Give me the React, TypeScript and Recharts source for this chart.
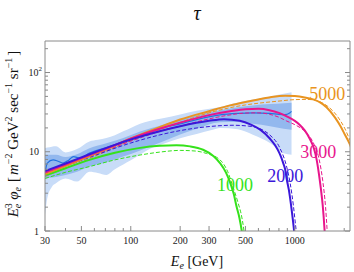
import { ComposedChart, Line, Area, XAxis, YAxis, ReferenceDot } from 'recharts'

const SERIF = '"Liberation Serif", "DejaVu Serif", serif'
const FRAME = '#8a8a8a'
const GREEN = '#35e21b'
const BLUE = '#3a17d9'
const MAGENTA = '#e8158c'
const ORANGE = '#e99420'

type Pt = [number, number]
type BandPt = [number, number, number]

// axis ticks
const xTicks = [30, 40, 50, 60, 70, 80, 90, 100, 200, 300, 400, 500, 600, 700, 800, 900, 1000, 2000]
const xTickLabels = [30, 50, 100, 200, 300, 500, 1000]
const yTicks = [1, 2, 3, 4, 5, 6, 7, 8, 9, 10, 20, 30, 40, 50, 60, 70, 80, 90, 100, 200]
const yTickLabels = [1, 10, 100]

// measured flux bands [E, low, high] and central data line
const outerBand: BandPt[] = [
    [30, 1.6, 11.1], [31, 2.6, 11.3], [33, 3.6, 11.6], [35, 4.0, 11.7], [40, 4.6, 9.8], [47, 4.2, 10.8],
    [56, 5.6, 13.5], [63, 5.4, 14.2], [71, 5.1, 14.9], [80, 6.0, 16.2], [90, 6.9, 18.1], [100, 7.8, 20],
    [114, 9.2, 22.5], [130, 10.8, 24.5], [157, 12.5, 26.5], [200, 14.8, 29.5], [252, 16.8, 33],
    [316, 19, 35.5], [350, 20, 36.8], [450, 19.2, 42], [555, 16.4, 45.7], [706, 12.9, 50],
    [855, 9.6, 54], [955, 9.2, 56.5],
]
const innerBand: BandPt[] = [
    [30, 4.6, 9.2], [35, 4.8, 9.2], [40, 5.1, 8.6], [47, 5.6, 9.3], [56, 6.5, 11.1], [71, 7.4, 12.8],
    [90, 8.7, 14.9], [114, 10.4, 18], [157, 13.5, 22], [200, 16.5, 25.5], [252, 19.5, 29],
    [350, 23.5, 33.4], [450, 23.8, 36.5], [555, 22.5, 38.5], [706, 21, 40], [855, 19.5, 41],
    [955, 19, 41.5],
]
const dataLine: Pt[] = [
    [30, 5.4], [31, 7.2], [33.6, 7.9], [36, 7.6], [38.6, 7.2], [42, 7.9], [44.7, 8.7], [49, 8.3],
    [56, 9.6], [71, 11.3], [90, 13.4], [114, 16], [157, 20], [200, 22.5], [252, 25.5], [350, 29.2],
    [450, 30.5], [555, 31], [706, 30.5], [800, 29.6], [870, 29.4], [930, 30.8], [955, 32.3],
]

// model spectra, solid and dashed, per DM mass
const solid1000: Pt[] = [
    [30, 5.0], [40, 6.2], [56, 7.9], [80, 9.7], [114, 11.2], [150, 11.9], [190, 12.1], [230, 11.7],
    [276, 10.6], [320, 8.8], [350, 7.2], [380, 5.5], [403, 4.1], [425, 2.9], [441, 2.05], [460, 1.45],
    [475, 1.0], [482, 0.8],
]
const dashed1000: Pt[] = [
    [30, 4.6], [40, 5.5], [56, 6.5], [80, 7.9], [114, 9.1], [150, 9.9], [200, 10.4], [250, 10.2],
    [290, 9.5], [350, 7.9], [390, 5.6], [420, 3.6], [450, 2.3], [475, 1.5], [490, 1.0], [496, 0.8],
]
const solid2000: Pt[] = [
    [30, 5.7], [40, 7.1], [56, 9.3], [80, 12.2], [100, 14.3], [150, 18.2], [200, 21], [300, 24.6],
    [370, 25.8], [462, 24.6], [540, 22], [615, 19], [706, 14.6], [760, 12], [810, 9.4], [850, 7.2],
    [873, 6.0], [893, 4.5], [920, 3.3], [955, 1.9], [990, 1.0], [1000, 0.8],
]
const dashed2000: Pt[] = [
    [30, 5.3], [56, 8.5], [100, 12.9], [150, 16.3], [200, 18.5], [300, 20.8], [420, 21.6],
    [520, 21.1], [615, 19.5], [706, 16.2], [810, 11.2], [893, 6.4], [937, 4.0], [980, 2.1],
    [1010, 1.2], [1020, 1.0], [1030, 0.8],
]
const solid3000: Pt[] = [
    [30, 5.5], [40, 6.9], [56, 9.1], [80, 12.1], [100, 14.6], [150, 19.5], [200, 23.3], [300, 29],
    [403, 32.5], [500, 34.5], [600, 34.8], [700, 33.5], [800, 31], [893, 28], [1000, 24.5],
    [1073, 21.8], [1152, 18.5], [1236, 14.5], [1308, 11], [1355, 8.2], [1404, 5.2], [1440, 3.5],
    [1480, 2.1], [1520, 1.0], [1530, 0.8],
]
const dashed3000: Pt[] = [
    [30, 5.2], [56, 8.6], [100, 13.6], [150, 18], [200, 21], [300, 26], [403, 29.2], [500, 30.8],
    [600, 31], [700, 29.7], [800, 27.3], [893, 24.4], [1000, 22], [1152, 18], [1308, 12.5],
    [1400, 8.4], [1480, 4.3], [1540, 2.0], [1575, 1.0], [1585, 0.8],
]
const solid5000: Pt[] = [
    [30, 5.2], [40, 6.6], [56, 8.8], [80, 12], [100, 14.7], [150, 20.5], [200, 25.5], [300, 32.5],
    [403, 38.5], [500, 42.5], [600, 45.8], [700, 48.5], [873, 51], [1000, 50.5], [1150, 48.5],
    [1308, 45.5], [1425, 42], [1560, 36.5], [1760, 27], [1900, 21], [2022, 16.4], [2170, 12.3],
    [2250, 10],
]
const dashed5000: Pt[] = [
    [30, 4.9], [56, 8.2], [100, 13.8], [150, 19], [200, 23.5], [300, 31], [403, 36], [500, 39],
    [600, 41], [790, 43.5], [1000, 45.5], [1200, 45.8], [1308, 45], [1500, 40.5], [1700, 33],
    [1900, 24.5], [2022, 19.5], [2170, 14], [2250, 12],
]

// where the mass labels sit, in data units
const massLabels: { text: string; E: number; v: number; color: string }[] = [
    { text: '1000', E: 432, v: 3.83, color: GREEN },
    { text: '2000', E: 873, v: 4.97, color: BLUE },
    { text: '3000', E: 1389, v: 10, color: MAGENTA },
    { text: '5000', E: 1578, v: 54, color: ORANGE },
]

const rows = (pts: Pt[]) => pts.map(([E, v]) => ({ E, v }))
const band = (pts: BandPt[]) => pts.map(([E, lo, hi]) => ({ E, r: [lo, hi] }))

function makeXTick(side: 'bottom' | 'top') {
    return (props: any) => {
        const { x, y, payload } = props
        const major = xTickLabels.includes(payload.value)
        const len = major ? 5 : 3
        const dir = side === 'bottom' ? -1 : 1
        return (
            <g>
                <line x1={x} x2={x} y1={y} y2={y + dir * len} stroke={FRAME} />
                {side === 'bottom' && major && (
                    <text x={x} y={y + 13} textAnchor="middle" fontSize={10} fontFamily={SERIF} fill="#222">
                        {payload.value}
                    </text>
                )}
            </g>
        )
    }
}

function makeYTick(side: 'left' | 'right') {
    return (props: any) => {
        const { x, y, payload } = props
        const major = yTickLabels.includes(payload.value)
        const len = major ? 5 : 3
        const dir = side === 'left' ? 1 : -1
        return (
            <g>
                <line x1={x} x2={x + dir * len} y1={y} y2={y} stroke={FRAME} />
                {side === 'left' && major && (
                    payload.value === 100 ? (
                        <text x={x - 3} y={y} textAnchor="end" dominantBaseline="central" fontSize={10} fontFamily={SERIF} fill="#222">
                            10<tspan fontSize={7} dy={-4}>2</tspan>
                        </text>
                    ) : (
                        <text x={x - 6} y={y} textAnchor="end" dominantBaseline="central" fontSize={10} fontFamily={SERIF} fill="#222">
                            {payload.value}
                        </text>
                    )
                )}
            </g>
        )
    }
}

// axes get a 1px thickness so they are rendered; margins are reduced by that 1px
const xAxisCommon = {
    type: 'number' as const,
    scale: 'log' as const,
    domain: [30, 2170],
    allowDataOverflow: true,
    ticks: xTicks,
    interval: 0 as const,
    height: 1,
    tickSize: 0,
    tickMargin: 0,
    tickLine: false,
    axisLine: { stroke: FRAME },
}

const yAxisCommon = {
    type: 'number' as const,
    scale: 'log' as const,
    domain: [1, 250],
    allowDataOverflow: true,
    ticks: yTicks,
    interval: 0 as const,
    width: 1,
    tickSize: 0,
    tickMargin: 0,
    tickLine: false,
    axisLine: { stroke: FRAME },
}

export default function App() {
    const solidSeries: [Pt[], string][] = [
        [solid1000, GREEN], [solid5000, ORANGE], [solid3000, MAGENTA], [solid2000, BLUE],
    ]
    const dashedSeries: [Pt[], string][] = [
        [dashed1000, GREEN], [dashed5000, ORANGE], [dashed3000, MAGENTA], [dashed2000, BLUE],
    ]
    return (
        <div style={{ position: 'absolute', left: 0, top: 0, width: 354, height: 272, background: '#fff' }}>
            <ComposedChart width={354} height={272} margin={{ top: 40, right: 3, bottom: 40, left: 44 }}>
                <XAxis {...xAxisCommon} dataKey="E" tick={makeXTick('bottom')} />
                <XAxis {...xAxisCommon} xAxisId="top" orientation="top" tick={makeXTick('top')} />
                <YAxis {...yAxisCommon} tick={makeYTick('left')} />
                <YAxis {...yAxisCommon} yAxisId="right" orientation="right" tick={makeYTick('right')} />

                <Area data={band(outerBand)} dataKey="r" type="monotone" fill="#c8dcf8" fillOpacity={1} stroke="none" isAnimationActive={false} />
                <Area data={band(innerBand)} dataKey="r" type="monotone" fill="#93b8ee" fillOpacity={1} stroke="none" isAnimationActive={false} />
                <Line data={rows(dataLine)} dataKey="v" type="monotone" stroke="#2272e0" strokeWidth={1.2} dot={false} activeDot={false} isAnimationActive={false} />

                {dashedSeries.map(([pts, color], i) => (
                    <Line key={'d' + i} data={rows(pts)} dataKey="v" type="monotone" stroke={color} strokeWidth={1} strokeDasharray="4 2" dot={false} activeDot={false} isAnimationActive={false} />
                ))}
                {solidSeries.map(([pts, color], i) => (
                    <Line key={'s' + i} data={rows(pts)} dataKey="v" type="monotone" stroke={color} strokeWidth={2} dot={false} activeDot={false} isAnimationActive={false} />
                ))}

                {massLabels.map(l => (
                    <ReferenceDot
                        key={l.text}
                        x={l.E}
                        y={l.v}
                        r={0}
                        shape={(p: any) => (
                            <text x={p.cx} y={p.cy} textAnchor="middle" dominantBaseline="central" fontSize={18} fontFamily={SERIF} fill={l.color}>
                                {l.text}
                            </text>
                        )}
                    />
                ))}
            </ComposedChart>

            <svg width={354} height={272} style={{ position: 'absolute', left: 0, top: 0, pointerEvents: 'none' }}>
                <text x={197} y={20} textAnchor="middle" fontSize={20} fontStyle="italic" fontFamily={SERIF} fill="#111">τ</text>
                <text x={197} y={266} textAnchor="middle" fontSize={14} fontFamily={SERIF} fill="#111">
                    <tspan fontStyle="italic">E</tspan>
                    <tspan fontStyle="italic" fontSize={10} dy={3}>e</tspan>
                    <tspan dy={-3}>{'  [GeV]'}</tspan>
                </text>
                <text transform="translate(18,134) rotate(-90)" textAnchor="middle" fontSize={15} fontFamily={SERIF} fill="#111">
                    <tspan fontStyle="italic">E</tspan>
                    <tspan fontSize={10} dy={-6}>3</tspan>
                    <tspan fontSize={10} fontStyle="italic" dx={-5} dy={9}>e</tspan>
                    <tspan fontStyle="italic" dx={4} dy={-3}>φ</tspan>
                    <tspan fontSize={10} fontStyle="italic" dy={3}>e</tspan>
                    <tspan dx={5} dy={-3}>[</tspan>
                    <tspan fontStyle="italic" dx={2}>m</tspan>
                    <tspan fontSize={10} dy={-6}>−2</tspan>
                    <tspan dy={6}> GeV</tspan>
                    <tspan fontSize={10} dy={-6}>2</tspan>
                    <tspan dy={6}> sec</tspan>
                    <tspan fontSize={10} dy={-6}>−1</tspan>
                    <tspan dy={6}> sr</tspan>
                    <tspan fontSize={10} dy={-6}>−1</tspan>
                    <tspan dx={2} dy={6}>]</tspan>
                </text>
            </svg>
        </div>
    )
}
